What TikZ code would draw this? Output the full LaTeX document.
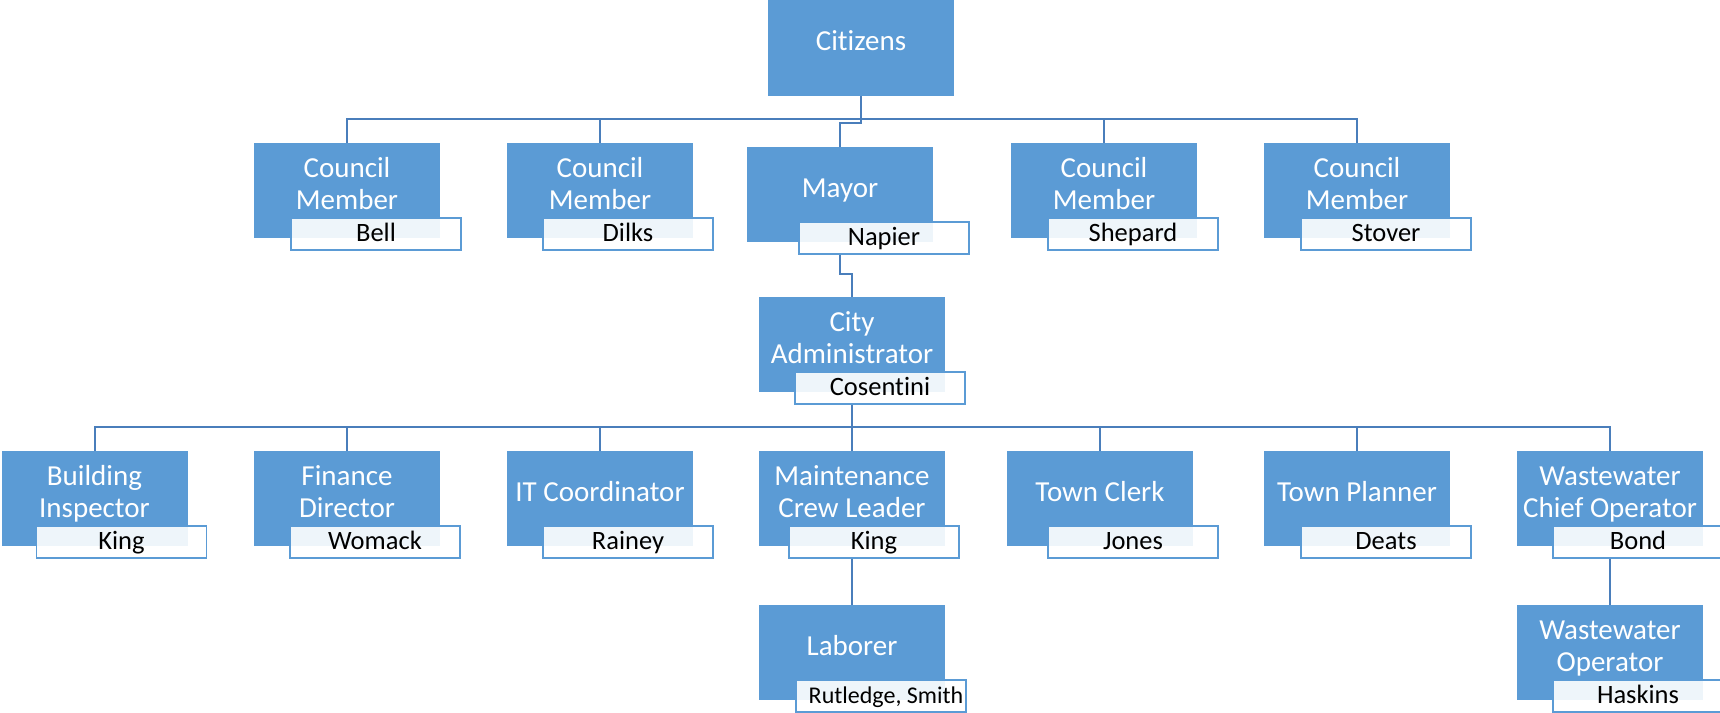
\documentclass[tikz,border=0pt]{standalone}
\usepackage{fontspec}
\setmainfont{Carlito}[Ligatures=NoCommon]
\definecolor{boxblue}{HTML}{5B9BD5}
\definecolor{lineblue}{HTML}{4A7EBB}
\tikzset{
  mainbox/.style={fill=boxblue, draw=none, minimum width=186pt, minimum height=95pt, inner sep=0pt},
  lbl/.style={text=white, font=\fontsize{29}{34}\selectfont, inner sep=0pt, anchor=base},
  namebox/.style={draw=boxblue, line width=1.5pt, fill=white, fill opacity=0.9, text opacity=1,
    minimum width=170pt, minimum height=32pt, inner sep=0pt, text height=19pt, text depth=5pt,
    font=\fontsize{26.5}{30}\selectfont},
  conn/.style={draw=lineblue, line width=2pt},
}
\newcommand\unitbox[7]{% id, cx, top, line1, line2, name offset, person
  \node[mainbox] (#1) at (#2,{#3+47.5}) {};
  \ifx&#5&
    \node[lbl] (#1-t) at (#2,{#3+50}) {#4};
  \else
    \node[lbl] (#1-t) at (#2,{#3+34}) {#4};
    \node[lbl] (#1-u) at (#2,{#3+66}) {#5};
  \fi
  \node[namebox] (#1-n) at ({#2-93+#6+85},{#3+91}) {#7};
}
\begin{document}
\begin{tikzpicture}[x=1pt,y=-1pt]
\fill[white] (0,0) rectangle (1720,712);
\useasboundingbox (0,0) rectangle (1720,712);
\coordinate (topbus) at (0,119);
\coordinate (midbus) at (0,427);

% Citizens
\node[mainbox, minimum height=96pt] (cit) at (861,48) {};
\node[lbl] (cit-t) at (861,50) {Citizens};

% top row
\unitbox{bell}{347}{143}{Council}{Member}{37}{Bell}
\unitbox{dilks}{600}{143}{Council}{Member}{36}{Dilks}
\unitbox{mayor}{840}{147}{Mayor}{}{52}{Napier}
\unitbox{shepard}{1104}{143}{Council}{Member}{37}{Shepard}
\unitbox{stover}{1357}{143}{Council}{Member}{37}{Stover}

% admin
\unitbox{admin}{852}{297}{City}{Administrator}{36}{Cosentini}

% bottom row
\unitbox{building}{94.5}{451}{Building}{Inspector}{35}{King}
\unitbox{finance}{347}{451}{Finance}{Director}{36}{Womack}
\unitbox{itc}{600}{451}{IT Coordinator}{}{36}{Rainey}
\unitbox{maint}{852}{451}{Maintenance}{Crew Leader}{30}{King}
\unitbox{clerk}{1100}{451}{Town Clerk}{}{41}{Jones}
\unitbox{planner}{1357}{451}{Town Planner}{}{37}{Deats}
\unitbox{wwc}{1610}{451}{Wastewater}{Chief Operator}{36}{Bond}

% lowest row
\node[mainbox] (laborer) at (852,652.5) {};
\node[lbl] (laborer-t) at (852,655) {Laborer};
\node[namebox, font=\fontsize{24}{28}\selectfont] (laborer-n) at ({852-93+37+85},{605+91}) {\hspace*{10pt}Rutledge, Smith};
\unitbox{wwo}{1610}{605}{Wastewater}{Operator}{36}{Haskins}

% connectors
\draw[conn] (cit.south) -- ++(0,27) -| (mayor.north);
\draw[conn] (bell.north) |- (cit.south |- topbus);
\draw[conn] (dilks.north) |- (cit.south |- topbus);
\draw[conn] (shepard.north) |- (cit.south |- topbus);
\draw[conn] (stover.north) |- (cit.south |- topbus);
\draw[conn] (mayor-n.south -| mayor.south) -- ++(0,19) -| (admin.north);
\draw[conn] (admin-n.south -| admin.south) -- (admin.south |- midbus);
\foreach \b in {building,finance,itc,maint,clerk,planner,wwc}
  \draw[conn] (\b.north) |- (admin.south |- midbus);
\draw[conn] (maint-n.south -| maint.south) -- (laborer.north);
\draw[conn] (wwc-n.south -| wwc.south) -- (wwo.north);
\end{tikzpicture}
\end{document}
